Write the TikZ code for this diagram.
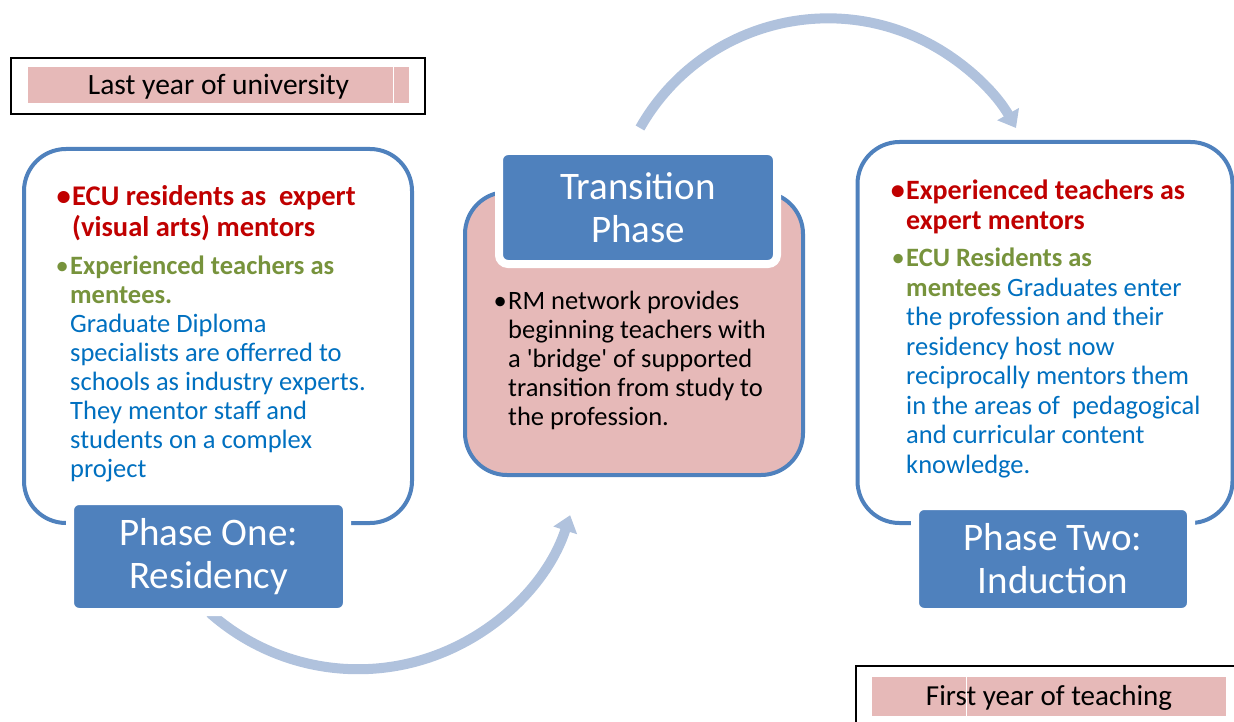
\documentclass[tikz,border=0pt]{standalone}
\usepackage{fontspec}
\setmainfont{Carlito}
\usepackage{tikz}
\usetikzlibrary{arrows.meta}
\definecolor{phaseblue}{RGB}{79,129,189}
\definecolor{panelpink}{RGB}{230,185,184}
\definecolor{arrowblue}{RGB}{176,194,221}
\definecolor{mentorred}{RGB}{192,0,0}
\definecolor{menteegreen}{RGB}{119,147,60}
\definecolor{bodyblue}{RGB}{0,112,192}
\tikzset{
  panel/.style={
    draw=phaseblue,
    line width=4pt,
    rounded corners=42pt,
    inner sep=0pt,
  },
  phase label/.style={
    fill=phaseblue,
    draw=white,
    line width=8pt,
    rounded corners=9pt,
    text=white,
    align=center,
    inner sep=0pt,
    font=\fontsize{39}{43}\selectfont,
  },
  year frame/.style={
    draw=black,
    line width=2pt,
    inner sep=0pt,
  },
  year label/.style={
    fill=panelpink,
    inner sep=0pt,
    font=\fontsize{29.5}{32}\selectfont,
  },
  bullet text/.style={
    anchor=north west,
    inner sep=0pt,
    align=left,
    font=\fontsize{26.5}{29}\selectfont,
  },
  flow arrow/.style={
    draw=arrowblue,
    line width=10pt,
    -{Triangle[width=24pt,length=16pt]},
  }
}
\newcommand{\bul}{\llap{\textbullet\hspace{1.5pt}}}

\begin{document}
\begin{tikzpicture}[x=1pt,y=1pt]
    \path[use as bounding box] (0,0) rectangle (1234,-722);
    \clip (0,0) rectangle (1234,-722);

    \coordinate (bottom start) at (210,-613);
    \coordinate (top start) at (640,-128);
    \draw[flow arrow] (bottom start) arc[start angle=228.4, end angle=342, radius=223];
    \draw[flow arrow] (top start) arc[start angle=150.5, end angle=29.5, radius=216];

    \node [panel, fill=white, minimum width=388, minimum height=374] (residency panel) at (218,-336) {};
    \node [panel, fill=panelpink, minimum width=338, minimum height=283] (transition panel) at (634,-333.5) {};
    \node [panel, fill=white, minimum width=375, minimum height=381] (induction panel) at (1045,-332.5) {};

    \node [phase label, minimum width=277, minimum height=111] (phase one) at (208.5,-556.5) {Phase One:\\Residency};
    \node [phase label, minimum width=278, minimum height=113] (transition) at (638,-207.5) {Transition\\Phase};
    \node [phase label, minimum width=276, minimum height=106] (phase two) at (1053,-559) {Phase Two:\\Induction};

    \node [bullet text, text=mentorred, font=\fontsize{28.5}{31}\selectfont\bfseries] (residency mentors) at (72,-185)
      {\bul ECU residents as\ \ expert\\(visual arts) mentors};
    \node [bullet text, text=menteegreen] (residency mentees) at (70,-256)
      {\bul\textbf{Experienced teachers as}\\\textbf{mentees.}\\
       \color{bodyblue}Graduate Diploma\\\color{bodyblue}specialists are offerred to\\
       \color{bodyblue}schools as industry experts.\\\color{bodyblue}They mentor staff and\\
       \color{bodyblue}students on a complex\\\color{bodyblue}project};

    \node [bullet text] (transition text) at (508,-291)
      {\bul RM network provides\\beginning teachers with\\a \textquotesingle bridge\textquotesingle\ of supported\\transition from study to\\the profession.};

    \node [bullet text, text=mentorred, font=\fontsize{28}{30}\selectfont\bfseries] (induction mentors) at (906,-180)
      {\bul Experienced teachers as\\expert mentors};
    \node [bullet text, text=menteegreen, font=\fontsize{26.5}{29.5}\selectfont] (induction mentees) at (906,-248)
      {\bul\textbf{ECU Residents as}\\\textbf{mentees} \color{bodyblue}Graduates enter\\
       \color{bodyblue}the profession and their\\\color{bodyblue}residency host now\\
       \color{bodyblue}reciprocally mentors them\\\color{bodyblue}in the areas of\ \ pedagogical\\
       \color{bodyblue}and curricular content\\\color{bodyblue}knowledge.};

    \node [year frame, minimum width=414, minimum height=56] (university frame) at (218,-86) {};
    \node [year label, minimum width=381, minimum height=36, text depth=0pt] (university) at (218.5,-85) {};
    \node [font=\fontsize{29.5}{32}\selectfont, inner sep=0pt] (university text) at (218.5,-87) {Last year of university};
    \draw [white, line width=1pt] (393,-67) -- (393,-103);

    \node [year frame, minimum width=400, minimum height=70, anchor=north west] (teaching frame) at (855,-665) {};
    \node [year label, minimum width=354, minimum height=39] (teaching) at (1049,-696.5) {};
    \node [font=\fontsize{29}{32}\selectfont, inner sep=0pt] (teaching text) at (1049,-697.5) {First year of teaching};
    \draw [white, line width=1pt] (966,-677) -- (966,-716);
\end{tikzpicture}
\end{document}
